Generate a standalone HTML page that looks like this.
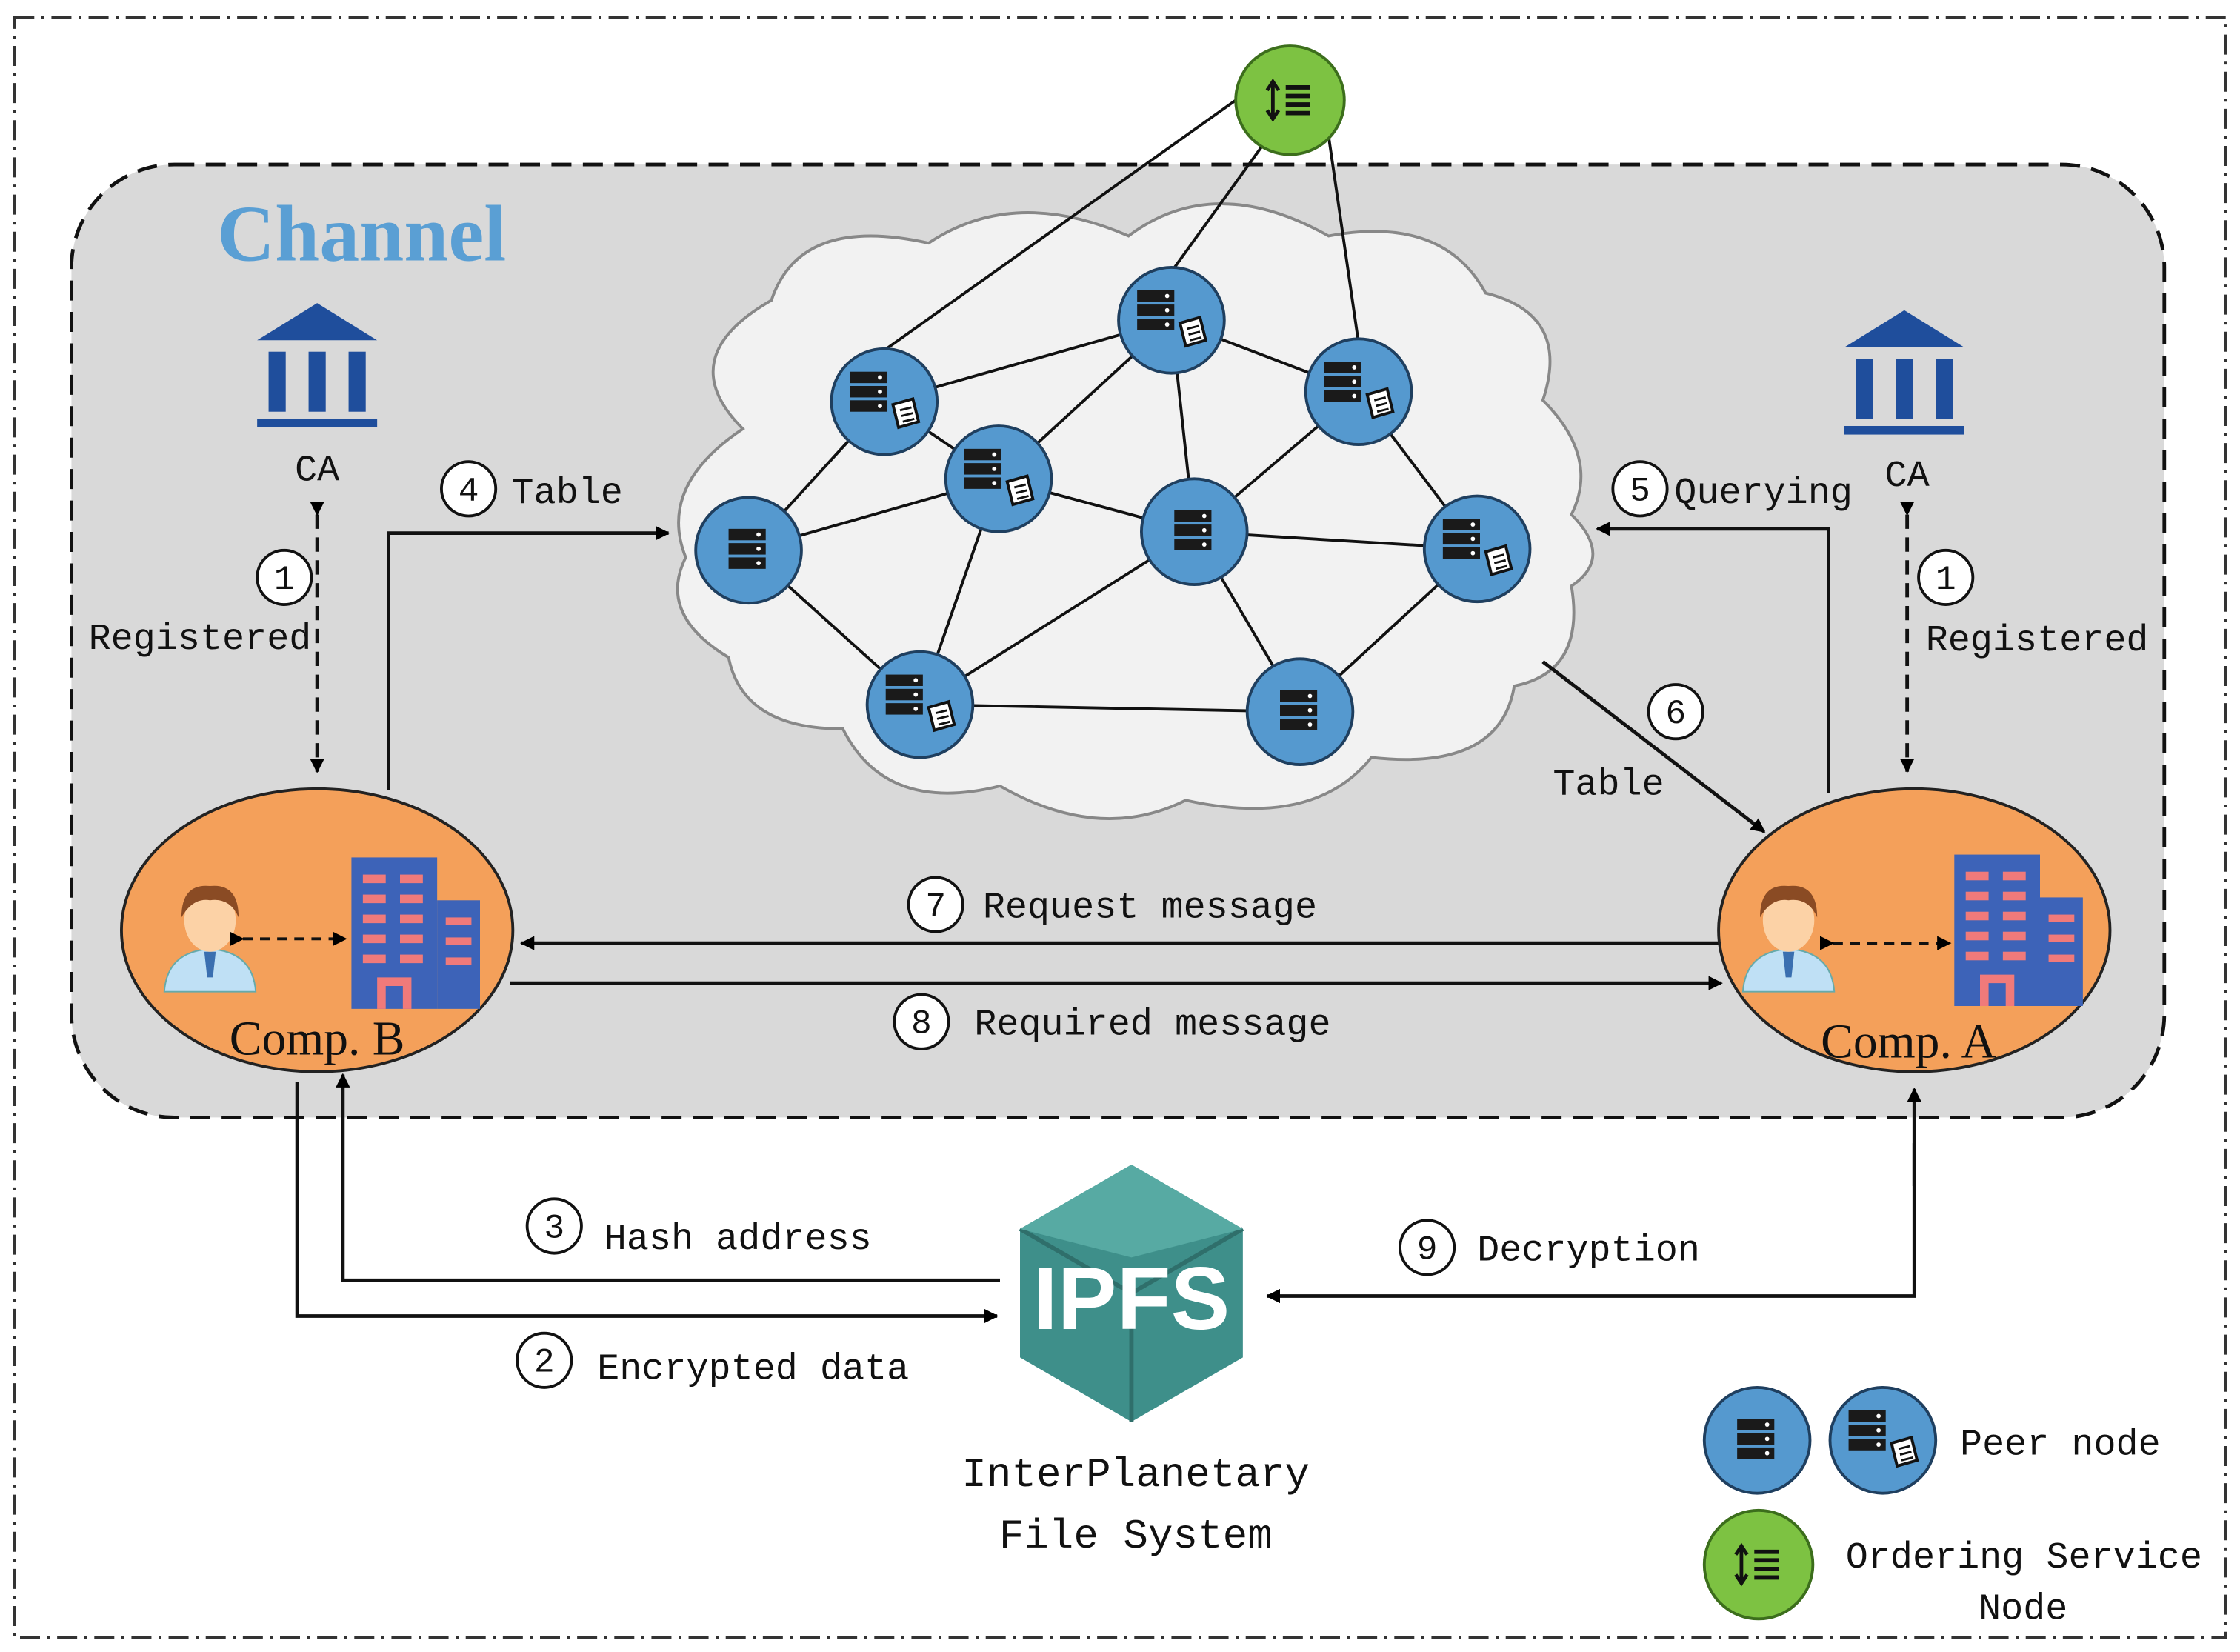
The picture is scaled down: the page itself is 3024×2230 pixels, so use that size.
<!DOCTYPE html>
<html><head><meta charset="utf-8"><style>
html,body{margin:0;padding:0;background:#fff;}
svg{display:block}
text{font-family:"Liberation Mono","Noto Sans CJK SC",monospace;fill:#111}
</style></head><body>
<svg width="3024" height="2230" viewBox="0 0 1568 1156" xmlns="http://www.w3.org/2000/svg">
<defs>
<marker id="ah" markerWidth="10" markerHeight="10" refX="9" refY="5" orient="auto" markerUnits="userSpaceOnUse" viewBox="0 0 10 10">
<path d="M0,0 L10,5 L0,10 z" fill="#000"/></marker>
<g id="srv">
<rect x="-14" y="-15" width="26" height="8" fill="#1a1a1a"/>
<rect x="-14" y="-5" width="26" height="8" fill="#1a1a1a"/>
<rect x="-14" y="5" width="26" height="8" fill="#1a1a1a"/>
<circle cx="7" cy="-11" r="1.5" fill="#fff"/><circle cx="7" cy="-1" r="1.5" fill="#fff"/><circle cx="7" cy="9" r="1.5" fill="#fff"/>
</g>
<g id="peer"><circle r="37" fill="#5599cf" stroke="#1f3f5f" stroke-width="2"/><use href="#srv"/></g>
<g id="peerd"><circle r="37" fill="#5599cf" stroke="#1f3f5f" stroke-width="2"/><use href="#srv" transform="translate(-10,-6)"/>
<path d="M6,2 L20,-2 L24,14 L10,18 z" fill="#fff" stroke="#111" stroke-width="2"/>
<path d="M11,6 L19,4 M12,10 L20,8 M13,14 L21,12" stroke="#111" stroke-width="1.5"/></g>
<g id="ord"><circle r="38" fill="#7dc242" stroke="#3c6e1c" stroke-width="2"/>
<path d="M-12,-12 L-12,12 M-16,-7 L-12,-13 L-8,-7 M-16,7 L-12,13 L-8,7" stroke="#111" stroke-width="2.5" fill="none"/>
<path d="M-3,-9 H14 M-3,-3 H14 M-3,3 H14 M-3,9 H14" stroke="#111" stroke-width="3"/></g>
<g id="ca"><path d="M-42,-20 L0,-46 L42,-20 z" fill="#1f4e9c"/>
<rect x="-34" y="-12" width="12" height="42" fill="#1f4e9c"/><rect x="-6" y="-12" width="12" height="42" fill="#1f4e9c"/><rect x="22" y="-12" width="12" height="42" fill="#1f4e9c"/>
<rect x="-42" y="35" width="84" height="6" fill="#1f4e9c"/></g>
<g id="person">
<path d="M-32,42 Q-30,14 0,12 Q30,14 32,42 z" fill="#bfe0f5" stroke="#6aa" stroke-width="1"/>
<path d="M-4,14 L4,14 L2,32 L-2,32 z" fill="#3a6fb0"/>
<ellipse cx="0" cy="-8" rx="18" ry="22" fill="#fcd2a6"/>
<path d="M-20,-10 Q-20,-34 0,-32 Q20,-34 20,-10 Q14,-24 0,-22 Q-12,-24 -20,-10z" fill="#8a4b24"/></g>
<g id="bld">
<rect x="0" y="0" width="60" height="106" fill="#3d63b8"/>
<rect x="60" y="30" width="30" height="76" fill="#3d63b8"/>
<g fill="#f07a7a">
<rect x="8" y="12" width="16" height="6"/><rect x="34" y="12" width="16" height="6"/>
<rect x="8" y="26" width="16" height="6"/><rect x="34" y="26" width="16" height="6"/>
<rect x="8" y="40" width="16" height="6"/><rect x="34" y="40" width="16" height="6"/>
<rect x="8" y="54" width="16" height="6"/><rect x="34" y="54" width="16" height="6"/>
<rect x="8" y="68" width="16" height="6"/><rect x="34" y="68" width="16" height="6"/>
<rect x="66" y="42" width="18" height="5"/><rect x="66" y="56" width="18" height="5"/><rect x="66" y="70" width="18" height="5"/>
<path d="M18,106 V84 H42 V106 H36 V90 H24 V106 z"/></g></g>
</defs>

<rect x="10" y="12" width="1548" height="1134" fill="none" stroke="#333" stroke-width="2" stroke-dasharray="14,5,2,5"/>
<rect x="50" y="115" width="1465" height="667" rx="72" fill="#d9d9d9" stroke="#111" stroke-width="2.5" stroke-dasharray="14,8"/>
<text x="152" y="182" style="font-family:'Liberation Serif',serif;font-weight:bold;font-size:56px;fill:#5a9fd4">Channel</text>

<path d="M520,300 Q470,250 540,210 Q560,150 650,170 Q710,130 790,165 Q850,120 930,165 Q1010,150 1040,205 Q1100,220 1080,280 Q1120,320 1100,360 Q1130,390 1100,410 Q1110,470 1060,480 Q1050,540 960,530 Q920,580 830,560 Q770,590 700,550 Q620,570 590,510 Q520,510 510,460 Q460,430 480,390 Q460,340 520,300 z" fill="#f2f2f2" stroke="#888" stroke-width="2"/>

<g stroke="#111" stroke-width="2">
<line x1="865" y1="70" x2="619" y2="245"/><line x1="885" y1="100" x2="820" y2="190"/><line x1="930" y1="95" x2="951" y2="240"/>
<line x1="524" y1="385" x2="619" y2="281"/><line x1="524" y1="385" x2="699" y2="335"/><line x1="524" y1="385" x2="644" y2="493"/>
<line x1="619" y1="281" x2="820" y2="224"/><line x1="619" y1="281" x2="699" y2="335"/><line x1="699" y1="335" x2="820" y2="224"/>
<line x1="820" y1="224" x2="951" y2="274"/><line x1="820" y1="224" x2="836" y2="372"/><line x1="699" y1="335" x2="836" y2="372"/>
<line x1="699" y1="335" x2="644" y2="493"/><line x1="951" y1="274" x2="836" y2="372"/><line x1="951" y1="274" x2="1034" y2="384"/>
<line x1="836" y1="372" x2="1034" y2="384"/><line x1="836" y1="372" x2="644" y2="493"/><line x1="836" y1="372" x2="910" y2="498"/>
<line x1="644" y1="493" x2="910" y2="498"/><line x1="1034" y1="384" x2="910" y2="498"/>
</g>
<use href="#ord" x="903" y="70"/>
<use href="#peerd" x="619" y="281"/><use href="#peerd" x="820" y="224"/><use href="#peerd" x="951" y="274"/>
<use href="#peerd" x="699" y="335"/><use href="#peer" x="524" y="385"/><use href="#peer" x="836" y="372"/>
<use href="#peerd" x="1034" y="384"/><use href="#peerd" x="644" y="493"/><use href="#peer" x="910" y="498"/>

<use href="#ca" x="222" y="258"/><use href="#ca" x="1333" y="263"/>
<text x="222" y="336" font-size="26" text-anchor="middle">CA</text>
<text x="1335" y="340" font-size="26" text-anchor="middle">CA</text>

<g stroke="#111" stroke-width="2.5" fill="none">
<line x1="222" y1="360" x2="222" y2="540" stroke-dasharray="10,6" marker-start="url(#ah)" marker-end="url(#ah)"/>
<line x1="1335" y1="360" x2="1335" y2="540" stroke-dasharray="10,6" marker-start="url(#ah)" marker-end="url(#ah)"/>
<polyline points="272,553 272,373 468,373" marker-end="url(#ah)"/>
<polyline points="1280,555 1280,370 1118,370" marker-end="url(#ah)"/>
<line x1="1080" y1="463" x2="1235" y2="582" marker-end="url(#ah)"/>
<line x1="1203" y1="660" x2="365" y2="660" marker-end="url(#ah)"/>
<line x1="357" y1="688" x2="1205" y2="688" marker-end="url(#ah)"/>
<polyline points="700,896 240,896 240,752" marker-end="url(#ah)"/>
<polyline points="208,757 208,921 698,921" marker-end="url(#ah)"/>
<polyline points="1340,800 1340,907 887,907" marker-end="url(#ah)"/>
<line x1="1340" y1="830" x2="1340" y2="762" marker-end="url(#ah)"/>
</g>

<ellipse cx="222" cy="651" rx="137" ry="99" fill="#f4a05a" stroke="#222" stroke-width="2"/>
<ellipse cx="1340" cy="651" rx="137" ry="99" fill="#f4a05a" stroke="#222" stroke-width="2"/>
<use href="#person" x="147" y="652"/><use href="#bld" x="246" y="600"/>
<use href="#person" x="1252" y="652"/><use href="#bld" x="1368" y="598"/>
<line x1="170" y1="657" x2="242" y2="657" stroke="#111" stroke-width="2" stroke-dasharray="7,5" marker-start="url(#ah)" marker-end="url(#ah)"/>
<line x1="1283" y1="660" x2="1365" y2="660" stroke="#111" stroke-width="2" stroke-dasharray="7,5" marker-start="url(#ah)" marker-end="url(#ah)"/>
<text x="222" y="738" font-size="34" text-anchor="middle" style="font-family:'Liberation Serif',serif">Comp. B</text>
<text x="1336" y="740" font-size="34" text-anchor="middle" style="font-family:'Liberation Serif',serif">Comp. A</text>

<g fill="#fff" stroke="#111" stroke-width="2">
<circle cx="199" cy="404" r="19"/><circle cx="1362" cy="404" r="19"/><circle cx="328" cy="342" r="19"/>
<circle cx="1148" cy="342" r="19"/><circle cx="1173" cy="498" r="19"/><circle cx="655" cy="633" r="19"/>
<circle cx="645" cy="715" r="19"/><circle cx="388" cy="858" r="19"/><circle cx="381" cy="952" r="19"/><circle cx="999" cy="873" r="19"/>
</g>
<g font-size="24" text-anchor="middle">
<text x="199" y="412">1</text><text x="1362" y="412">1</text><text x="328" y="350">4</text><text x="1148" y="350">5</text>
<text x="1173" y="506">6</text><text x="655" y="641">7</text><text x="645" y="723">8</text><text x="388" y="866">3</text>
<text x="381" y="960">2</text><text x="999" y="881">9</text>
</g>
<g font-size="26">
<text x="62" y="454">Registered</text><text x="1348" y="455">Registered</text>
<text x="358" y="352">Table</text><text x="1172" y="352">Querying</text><text x="1087" y="556">Table</text>
<text x="688" y="642">Request message</text><text x="682" y="724">Required message</text>
<text x="423" y="874">Hash address</text><text x="418" y="965">Encrypted data</text><text x="1034" y="882">Decryption</text>
<text x="795" y="1040" text-anchor="middle" font-size="29">InterPlanetary</text>
<text x="795" y="1083" text-anchor="middle" font-size="29">File System</text>
<text x="1372" y="1018">Peer node</text>
<text x="1292" y="1097">Ordering Service</text>
<text x="1385" y="1133">Node</text>
</g>

<path d="M792,815 L870,860 L870,950 L792,995 L714,950 L714,860 z" fill="#3e8f8a"/>
<path d="M714,860 L792,905 L870,860 M792,905 L792,995" stroke="#2f6f6b" stroke-width="3" fill="none"/>
<path d="M792,815 L870,860 L792,880 L714,860 z" fill="#57aaa3"/>
<text x="792" y="930" text-anchor="middle" style="font-family:'Liberation Sans',sans-serif;font-weight:bold;font-size:62px;fill:#fff">IPFS</text>

<use href="#peer" x="1230" y="1008"/><use href="#peerd" x="1318" y="1008"/>
<use href="#ord" x="1231" y="1095"/>
</svg>
</body></html>
